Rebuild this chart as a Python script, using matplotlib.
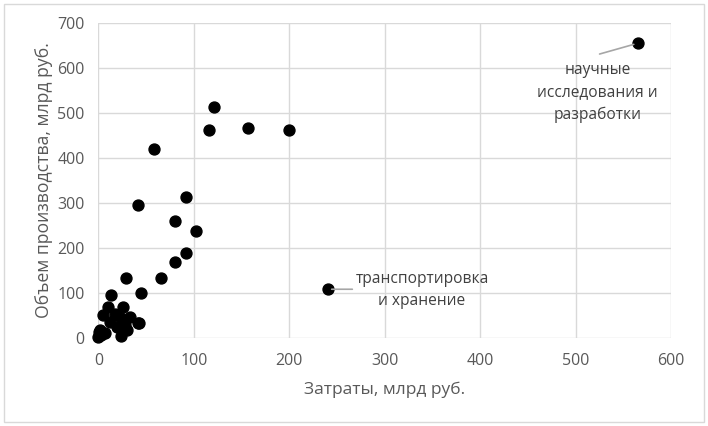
import matplotlib.pyplot as plt
from matplotlib.patches import Rectangle

# затраты и объем производства по видам деятельности, млрд руб.
costs = [565, 121, 116, 157, 200, 58, 92, 41, 80, 102, 92, 80, 66, 29, 45, 13,
         240, 41, 10, 26, 5, 17, 33, 24, 12, 28, 19, 24, 2, 0, 7, 30, 42, 3, 1]
output = [655, 514, 462, 466, 462, 420, 313, 295, 260, 237, 188, 168, 134, 134, 100, 95,
          108, 33, 69, 68, 50, 54, 47, 43, 36, 28, 24, 3, 17, 2, 10, 17, 32, 6, 12]

label_rnd = 'научные\nисследования и\nразработки'
label_trans = 'транспортировка\nи хранение'

plt.rcParams['font.family'] = ['Open Sans', 'DejaVu Sans']

fig = plt.figure(figsize=(7.08, 4.26), dpi=100)
ax = fig.add_axes([0.139, 0.207, 0.809, 0.739])

ax.scatter(costs, output, s=62, color='black', zorder=3, clip_on=False)

ax.set_xlim(0, 600)
ax.set_ylim(0, 700)
ax.set_xticks(range(0, 601, 100))
ax.set_yticks(range(0, 701, 100))
ax.grid(True, color='#d9d9d9', linewidth=1)
ax.set_axisbelow(True)
for s in ax.spines.values():
    s.set_visible(False)
ax.tick_params(length=0, labelsize=11.5, colors='#595959')
ax.tick_params(axis='y', pad=10)
ax.tick_params(axis='x', pad=11)

ax.set_xlabel('Затраты, млрд руб.', fontsize=12.5, color='#595959', labelpad=9)
ax.set_ylabel('Объем производства, млрд руб.', fontsize=12.7, color='#595959', labelpad=3)

# подписи выбросов
ax.annotate('', xy=(costs[0], output[0]), xytext=(525, 631),
            arrowprops=dict(arrowstyle='-', color='#a6a6a6', lw=1.2, shrinkA=0, shrinkB=3))
ax.text(523, 546, label_rnd, ha='center', va='center', fontsize=11.2,
        color='#404040', linespacing=1.5)

ax.annotate('', xy=(costs[16], output[16]), xytext=(266, output[16]),
            arrowprops=dict(arrowstyle='-', color='#a6a6a6', lw=1.2, shrinkA=0, shrinkB=3))
ax.text(339, 106, label_trans, ha='center', va='center', fontsize=11.2,
        color='#404040', linespacing=1.5)

fig.patches.append(Rectangle((0.006, 0.01), 0.988, 0.98, transform=fig.transFigure,
                             fill=False, edgecolor='#d9d9d9', linewidth=1))

fig.savefig('out.png', dpi=100)
